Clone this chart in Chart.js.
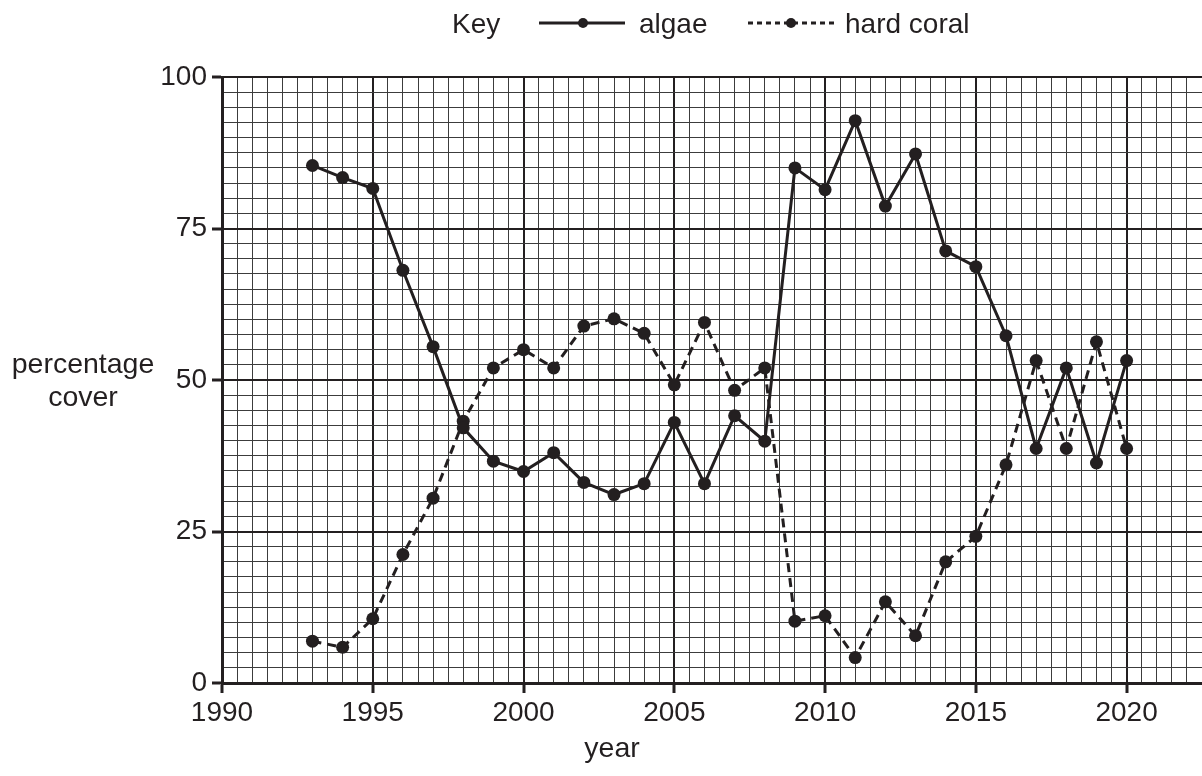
<!DOCTYPE html>
<html>
<head>
<meta charset="utf-8">
<title>Algae and hard coral cover</title>
<script src="https://cdn.jsdelivr.net/npm/chart.js@4/dist/chart.umd.min.js"></script>
<style>
    html, body { margin: 0; padding: 0; background: #fff; }
    #wrap { width: 1202px; height: 776px; }
</style>
</head>
<body>
<div id="wrap"><canvas id="coverChart" width="1202" height="776"></canvas></div>
<script>
// data
const years = [1993, 1994, 1995, 1996, 1997, 1998, 1999, 2000, 2001, 2002, 2003, 2004, 2005, 2006,
    2007, 2008, 2009, 2010, 2011, 2012, 2013, 2014, 2015, 2016, 2017, 2018, 2019, 2020];
const algae = [85.4, 83.4, 81.6, 68.1, 55.5, 42.1, 36.6, 34.9, 38.0, 33.1, 31.1, 32.9, 43.0, 32.9,
    44.1, 39.9, 85.0, 81.4, 92.8, 78.7, 87.3, 71.3, 68.7, 57.3, 38.7, 52.0, 36.3, 53.2];
const hardCoral = [6.9, 5.9, 10.6, 21.2, 30.5, 43.2, 52.0, 55.0, 52.0, 58.9, 60.1, 57.7, 49.2, 59.5,
    48.3, 52.0, 10.2, 11.1, 4.2, 13.4, 7.8, 20.0, 24.2, 36.0, 53.2, 38.7, 56.3, 38.7];
const xLabels = [1990, 1995, 2000, 2005, 2010, 2015, 2020];
const yLabels = [0, 25, 50, 75, 100];

const INK = '#231f20';
const FONT = '"Liberation Sans", Arial, sans-serif';

const toPoints = (vals) => years.map((y, i) => ({ x: y, y: vals[i] }));

const isMajorX = (v) => xLabels.includes(v);
const isMajorY = (v) => yLabels.includes(v);

// axis titles and the "Key" drawn by hand, like on the paper
const paperText = {
    id: 'paperText',
    afterDraw(chart) {
        const ctx = chart.ctx;
        ctx.save();
        ctx.fillStyle = INK;
        ctx.textBaseline = 'alphabetic';

        ctx.font = '28.5px ' + FONT;
        ctx.textAlign = 'center';
        ctx.fillText('percentage', 83, 373);
        ctx.fillText('cover', 83, 406);
        ctx.fillText('year', 612, 757);

        ctx.font = '28px ' + FONT;
        ctx.textAlign = 'left';
        ctx.fillText('Key', 452, 33);
        ctx.fillText('algae', 639, 33);
        ctx.fillText('hard coral', 845, 33);

        ctx.strokeStyle = INK;
        ctx.lineWidth = 3;
        ctx.beginPath();
        ctx.moveTo(539, 23);
        ctx.lineTo(625, 23);
        ctx.stroke();

        ctx.setLineDash([5, 4]);
        ctx.beginPath();
        ctx.moveTo(748, 23);
        ctx.lineTo(836, 23);
        ctx.stroke();
        ctx.setLineDash([]);

        [583, 791].forEach(cx => {
            ctx.beginPath();
            ctx.arc(cx, 23, 5, 0, Math.PI * 2);
            ctx.fill();
        });
        ctx.restore();
    }
};

const ctx = document.getElementById('coverChart');
new Chart(ctx, {
    type: 'line',
    data: {
        datasets: [
            {
                label: 'algae',
                data: toPoints(algae),
                borderColor: INK,
                backgroundColor: INK,
                borderWidth: 3,
                pointRadius: 6.5,
                pointBackgroundColor: INK,
                pointBorderWidth: 0,
                tension: 0
            },
            {
                label: 'hard coral',
                data: toPoints(hardCoral),
                borderColor: INK,
                backgroundColor: INK,
                borderWidth: 3,
                borderDash: [9, 6],
                pointRadius: 6.5,
                pointBackgroundColor: INK,
                pointBorderWidth: 0,
                tension: 0
            }
        ]
    },
    options: {
        responsive: false,
        animation: false,
        devicePixelRatio: 1,
        layout: { autoPadding: false, padding: { top: 77, right: 0, left: 0, bottom: 0 } },
        plugins: {
            legend: { display: false },
            tooltip: { enabled: false }
        },
        scales: {
            x: {
                type: 'linear',
                min: 1990,
                max: 2022.5,
                afterFit: (scale) => {
                    scale.height = 93;
                    scale.paddingRight = 0;
                    scale.paddingLeft = 0;
                },
                afterBuildTicks: (scale) => {
                    const t = [];
                    for (let i = 0; i <= 65; i++) t.push({ value: 1990 + i * 0.5 });
                    scale.ticks = t;
                },
                border: { display: true, color: INK, width: 3 },
                grid: {
                    color: (c) => isMajorX(c.tick.value) ? INK : '#3c3c3c',
                    lineWidth: (c) => isMajorX(c.tick.value) ? 2 : 1,
                    tickLength: 10,
                    tickColor: (c) => isMajorX(c.tick.value) ? INK : 'rgba(0,0,0,0)',
                    tickWidth: 3
                },
                ticks: {
                    autoSkip: false,
                    maxRotation: 0,
                    padding: 3,
                    color: INK,
                    font: { family: FONT, size: 28 },
                    callback: (v) => isMajorX(v) ? String(v) : ''
                }
            },
            y: {
                min: 0,
                max: 100,
                afterFit: (scale) => { scale.width = 222; },
                afterBuildTicks: (scale) => {
                    const t = [];
                    for (let i = 0; i <= 40; i++) t.push({ value: i * 2.5 });
                    scale.ticks = t;
                },
                border: { display: true, color: INK, width: 3 },
                grid: {
                    color: (c) => isMajorY(c.tick.value) ? INK : '#3c3c3c',
                    lineWidth: (c) => isMajorY(c.tick.value) ? 2 : 1,
                    tickLength: 10,
                    tickColor: (c) => isMajorY(c.tick.value) ? INK : 'rgba(0,0,0,0)',
                    tickWidth: 3
                },
                ticks: {
                    autoSkip: false,
                    padding: 5,
                    color: INK,
                    font: { family: FONT, size: 28 },
                    callback: (v) => isMajorY(v) ? String(v) : ''
                }
            }
        }
    },
    plugins: [paperText]
});
</script>
</body>
</html>
